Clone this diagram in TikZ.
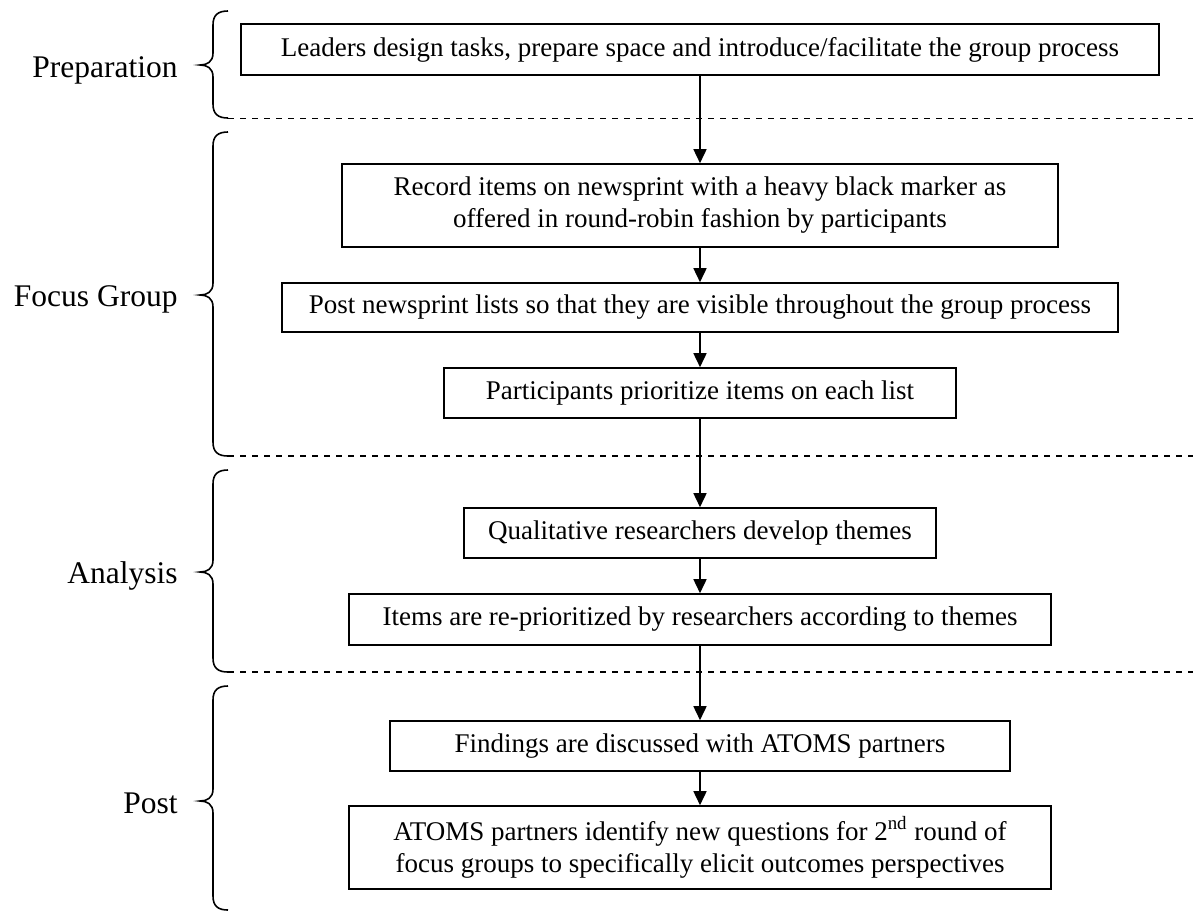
\documentclass[tikz,border=0pt]{standalone}
\usepackage{fontspec}
\setmainfont{Liberation Serif}
\usetikzlibrary{arrows.meta}
\newcommand\phasebrace[3]{%
  \draw[brc] (228,#1) .. controls (218,#1) and (213,{#1+4}) .. (213,{#1+14})
    -- (213,{#2-12}) .. controls (213,{#2-3}) and (207,#2) .. (200,#2)
    .. controls (207,#2) and (213,{#2+3}) .. (213,{#2+12})
    -- (213,{#3-14}) .. controls (213,{#3-4}) and (218,#3) .. (228,#3);}
\begin{document}
\begin{tikzpicture}[x=0.5pt,y=-0.5pt,
  stepbox/.style={draw, line width=0.8pt, inner sep=0pt, align=center,
    font=\fontsize{13.5pt}{16pt}\selectfont},
  phase/.style={anchor=base east, inner sep=0pt,
    font=\fontsize{15.75pt}{18pt}\selectfont},
  flow/.style={line width=0.8pt, -{Triangle[length=7pt,width=6.5pt]}},
  sep/.style={line width=0.7pt, dash pattern=on 3.2pt off 2.8pt},
  brc/.style={line width=0.8pt}]
\useasboundingbox (0,0) rectangle (1193,911);

% boxes
\node[stepbox, minimum width=459pt, minimum height=25.5pt] (n1) at (700,49.5)
  {Leaders design tasks, prepare space and introduce/facilitate the group process};
\node[stepbox, minimum width=358pt, minimum height=41.5pt] (n2) at (700,205.5)
  {Record items on newsprint with a heavy black marker as\\offered in round-robin fashion by participants};
\node[stepbox, minimum width=418pt, minimum height=24.5pt] (n3) at (700,307.5)
  {Post newsprint lists so that they are visible throughout the group process};
\node[stepbox, minimum width=256pt, minimum height=25pt] (n4) at (700,393)
  {Participants prioritize items on each list};
\node[stepbox, minimum width=236pt, minimum height=25pt] (n5) at (700,533)
  {Qualitative researchers develop themes};
\node[stepbox, minimum width=351pt, minimum height=25.5pt] (n6) at (700,619.5)
  {Items are re-prioritized by researchers according to themes};
\node[stepbox, minimum width=310pt, minimum height=25pt] (n7) at (700,746)
  {Findings are discussed with ATOMS partners};
\node[stepbox, minimum width=351pt, minimum height=41.5pt] (n8) at (700,847.5)
  {ATOMS partners identify new questions for 2\textsuperscript{nd} round of\\focus groups to specifically elicit outcomes perspectives};

% arrows
\draw[flow] (n1) -- (n2);
\draw[flow] (n2) -- (n3);
\draw[flow] (n3) -- (n4);
\draw[flow] (n4) -- (n5);
\draw[flow] (n5) -- (n6);
\draw[flow] (n6) -- (n7);
\draw[flow] (n7) -- (n8);

% separators
\coordinate (s1a) at (228,118.5); \coordinate (s1b) at (1193,118.5);
\coordinate (s2a) at (228,456);   \coordinate (s2b) at (1193,456);
\coordinate (s3a) at (228,672);   \coordinate (s3b) at (1193,672);
\draw[sep] (s1a) -- (s1b);
\draw[sep] (s2a) -- (s2b);
\draw[sep] (s3a) -- (s3b);

% braces
\phasebrace{11}{65}{118}
\phasebrace{132}{295}{456}
\phasebrace{470}{572}{672}
\phasebrace{686}{801}{910}

% phase labels
\node[phase] (lprep) at (178,77) {Preparation};
\node[phase] (lfocus) at (178,306) {Focus Group};
\node[phase] (lana) at (178,583) {Analysis};
\node[phase] (lpost) at (178,813) {Post};
\end{tikzpicture}
\end{document}
